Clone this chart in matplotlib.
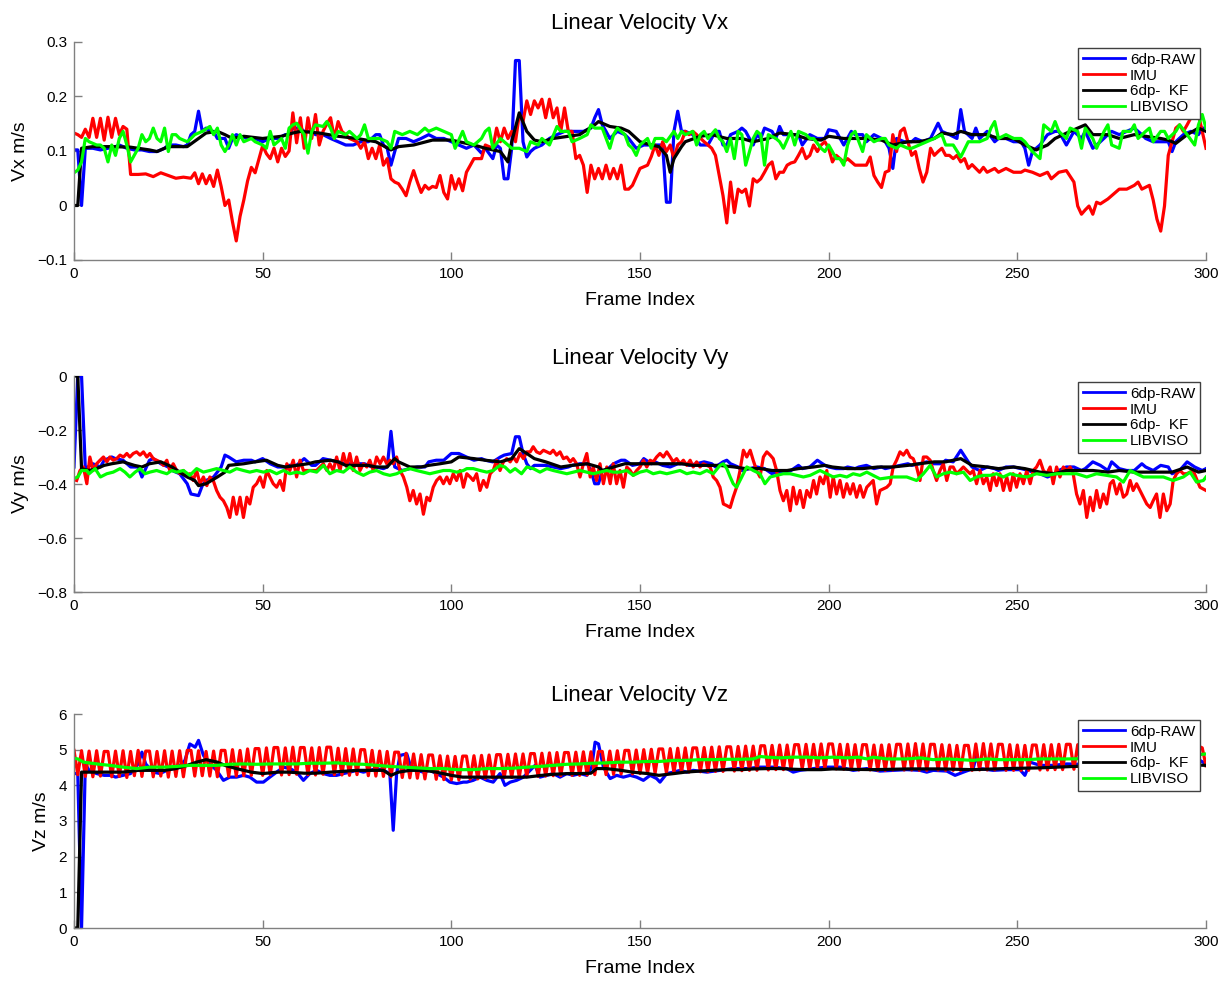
import matplotlib
matplotlib.use("Agg")
import matplotlib.pyplot as plt

plt.rcParams['font.family'] = ['Liberation Sans', 'DejaVu Sans']

# ---------------- labels / styling data ----------------
SERIES_NAMES = ["6dp-RAW", "IMU", "6dp-  KF", "LIBVISO"]
SERIES_COLORS = ["#0000ff", "#ff0000", "#000000", "#00ff00"]
TITLES = ["Linear Velocity Vx", "Linear Velocity Vy", "Linear Velocity Vz"]
YLABELS = ["Vx m/s", "Vy m/s", "Vz m/s"]
XLABEL = "Frame Index"
XTICKS = [0, 50, 100, 150, 200, 250, 300]
YTICKS_VX = [-0.1, 0, 0.1, 0.2, 0.3]
YTICKS_VY = [-0.8, -0.6, -0.4, -0.2, 0]
YTICKS_VZ = [0, 1, 2, 3, 4, 5, 6]

# ---------------- Vx data (frame, value) ----------------
VX_RAW = [(0,0.102),(1,0.102),(2,0.0),(3,0.105),(5,0.105),(7,0.102),(9,0.105),(11,0.108),(12,0.111),(14,0.105),
 (16,0.102),(18,0.102),(20,0.099),(22,0.099),(24,0.105),(25,0.111),(27,0.111),(29,0.108),(30,0.111),(31,0.130),
 (32,0.136),(33,0.173),(34,0.136),(35,0.142),(36,0.136),(37,0.136),(38,0.123),(40,0.123),(41,0.105),(42,0.123),
 (43,0.130),(44,0.127),(46,0.123),(48,0.123),(50,0.117),(52,0.123),(54,0.123),(56,0.130),(57,0.130),(58,0.142),
 (60,0.142),(61,0.136),(63,0.136),(64,0.130),(66,0.130),(68,0.123),(70,0.117),(72,0.111),(74,0.111),(76,0.117),
 (78,0.117),(80,0.130),(81,0.130),(82,0.111),(83,0.105),(84,0.074),(85,0.099),(86,0.123),(88,0.123),(90,0.117),
 (92,0.123),(94,0.130),(96,0.123),(98,0.123),(100,0.117),(102,0.111),(104,0.105),(106,0.111),(108,0.096),(109,0.105),
 (111,0.086),(112,0.111),(113,0.105),(114,0.049),(115,0.049),(116,0.105),(117,0.266),(118,0.266),(119,0.117),(120,0.089),
 (121,0.099),(122,0.105),(124,0.111),(126,0.123),(128,0.130),(130,0.136),(132,0.136),(134,0.136),(135,0.136),(137,0.142),
 (138,0.161),(139,0.176),(140,0.148),(141,0.136),(142,0.123),(144,0.136),(146,0.130),(147,0.123),(149,0.105),(151,0.111),
 (153,0.111),(155,0.111),(156,0.111),(157,0.006),(158,0.006),(159,0.136),(160,0.173),(161,0.136),(162,0.136),(164,0.130),
 (166,0.111),(168,0.111),(170,0.136),(171,0.136),(172,0.111),(173,0.111),(174,0.130),(176,0.136),(177,0.142),(178,0.136),
 (179,0.123),(180,0.111),(181,0.130),(182,0.123),(183,0.142),(185,0.136),(186,0.123),(187,0.145),(188,0.130),(190,0.130),
 (192,0.130),(193,0.111),(195,0.130),(197,0.123),(199,0.123),(200,0.139),(202,0.136),(204,0.111),(206,0.136),(207,0.130),
 (209,0.130),(210,0.117),(212,0.130),(214,0.123),(215,0.117),(216,0.105),(217,0.068),(218,0.123),(220,0.117),(222,0.117),
 (223,0.123),(225,0.117),(227,0.123),(229,0.151),(230,0.136),(232,0.130),(234,0.123),(235,0.176),(236,0.136),(238,0.123),
 (239,0.142),(240,0.123),(242,0.136),(244,0.117),(245,0.123),(247,0.123),(249,0.117),(251,0.117),(252,0.105),(253,0.074),
 (254,0.099),(256,0.111),(258,0.130),(260,0.136),(261,0.136),(263,0.111),(265,0.136),(267,0.123),(268,0.136),(270,0.105),
 (272,0.117),(274,0.130),(275,0.136),(277,0.130),(279,0.136),(281,0.142),(283,0.130),(284,0.123),(286,0.117),(288,0.117),
 (290,0.117),(291,0.099),(292,0.117),(294,0.130),(296,0.136),(298,0.130),(299,0.142),(300,0.142)]

VX_IMU = [(0,0.133),(1,0.130),(2,0.125),(3,0.140),(4,0.125),(5,0.160),(6,0.125),(7,0.160),(8,0.120),(9,0.162),
 (10,0.125),(11,0.160),(12,0.130),(13,0.145),(14,0.140),(15,0.057),(17,0.057),(19,0.058),(21,0.053),(23,0.060),
 (25,0.055),(27,0.050),(29,0.052),(31,0.050),(32,0.060),(33,0.040),(34,0.058),(35,0.040),(36,0.055),(37,0.035),
 (38,0.065),(39,0.035),(40,0.000),(41,0.010),(42,-0.030),(43,-0.065),(44,-0.020),(45,0.010),(46,0.045),(47,0.070),
 (48,0.060),(49,0.085),(50,0.110),(51,0.095),(52,0.086),(53,0.105),(54,0.080),(55,0.105),(56,0.090),(57,0.100),
 (58,0.170),(59,0.115),(60,0.161),(61,0.105),(62,0.161),(63,0.123),(64,0.167),(65,0.111),(66,0.136),(67,0.150),
 (68,0.161),(69,0.123),(70,0.154),(71,0.136),(72,0.130),(73,0.123),(74,0.120),(75,0.117),(76,0.105),(77,0.117),
 (78,0.086),(79,0.105),(80,0.086),(81,0.111),(82,0.074),(83,0.086),(84,0.049),(85,0.043),(86,0.040),(87,0.030),
 (88,0.018),(89,0.043),(90,0.064),(91,0.043),(92,0.024),(93,0.037),(94,0.030),(95,0.035),(96,0.033),(97,0.055),
 (98,0.024),(99,0.012),(100,0.055),(101,0.030),(102,0.049),(103,0.027),(104,0.061),(106,0.086),(108,0.086),(109,0.111),
 (111,0.105),(112,0.142),(113,0.117),(114,0.142),(115,0.123),(116,0.136),(117,0.117),(118,0.167),(119,0.154),(120,0.192),
 (121,0.167),(122,0.192),(123,0.179),(124,0.195),(125,0.161),(126,0.195),(127,0.161),(128,0.179),(129,0.136),(130,0.179),
 (131,0.136),(132,0.136),(133,0.086),(134,0.092),(135,0.074),(136,0.024),(137,0.074),(138,0.049),(139,0.068),(140,0.049),
 (141,0.074),(142,0.049),(143,0.068),(144,0.049),(145,0.074),(146,0.030),(147,0.030),(148,0.037),(150,0.068),(152,0.074),
 (153,0.090),(154,0.111),(155,0.092),(156,0.117),(157,0.099),(158,0.111),(159,0.086),(160,0.111),(161,0.117),(162,0.136),
 (163,0.130),(164,0.136),(165,0.130),(167,0.117),(168,0.111),(169,0.105),(170,0.092),(171,0.055),(172,0.018),(173,-0.032),
 (174,0.043),(175,-0.013),(176,0.030),(177,0.024),(178,0.030),(179,-0.001),(180,0.049),(181,0.043),(182,0.049),(183,0.061),
 (184,0.074),(185,0.080),(186,0.049),(187,0.061),(188,0.061),(189,0.074),(190,0.078),(191,0.080),(192,0.092),(193,0.105),
 (194,0.086),(195,0.092),(196,0.111),(197,0.099),(198,0.111),(199,0.117),(200,0.105),(201,0.080),(202,0.092),(203,0.086),
 (204,0.080),(205,0.086),(207,0.074),(209,0.074),(210,0.074),(211,0.089),(212,0.055),(213,0.043),(214,0.033),(215,0.061),
 (216,0.064),(217,0.130),(218,0.099),(219,0.136),(220,0.142),(221,0.117),(222,0.092),(223,0.099),(224,0.068),(225,0.043),
 (226,0.061),(227,0.105),(228,0.092),(229,0.099),(230,0.105),(231,0.092),(232,0.092),(233,0.086),(234,0.092),(235,0.080),
 (236,0.086),(237,0.068),(238,0.075),(239,0.068),(240,0.061),(241,0.070),(242,0.061),(244,0.068),(245,0.061),(247,0.068),
 (249,0.061),(251,0.061),(252,0.065),(254,0.061),(256,0.055),(258,0.061),(259,0.049),(261,0.061),(263,0.064),(265,0.043),
 (266,-0.001),(267,-0.016),(268,-0.008),(269,-0.001),(270,-0.016),(271,0.006),(272,0.003),(274,0.012),(275,0.018),(277,0.030),
 (279,0.030),(281,0.037),(282,0.043),(283,0.030),(285,0.037),(286,0.010),(287,-0.025),(288,-0.047),(289,-0.001),(290,0.092),
 (291,0.117),(292,0.142),(293,0.148),(294,0.136),(295,0.148),(296,0.161),(297,0.167),(298,0.167),(299,0.136),(300,0.105)]

VX_KF = [(0,0.0),(1,0.0),(2,0.105),(5,0.108),(10,0.108),(15,0.107),(20,0.102),(22,0.099),(25,0.108),(30,0.108),
 (33,0.123),(35,0.133),(38,0.136),(40,0.130),(42,0.123),(45,0.127),(50,0.123),(55,0.127),(58,0.133),(60,0.136),
 (65,0.133),(70,0.127),(75,0.123),(80,0.117),(84,0.102),(86,0.108),(90,0.111),(95,0.120),(100,0.120),(102,0.117),
 (106,0.111),(109,0.105),(113,0.099),(115,0.080),(116,0.117),(118,0.170),(120,0.136),(122,0.120),(124,0.117),(127,0.123),
 (131,0.127),(134,0.130),(138,0.148),(139,0.154),(142,0.145),(145,0.142),(147,0.136),(150,0.117),(153,0.111),(155,0.108),
 (157,0.092),(158,0.061),(159,0.086),(161,0.108),(162,0.117),(166,0.127),(169,0.130),(173,0.123),(177,0.123),(180,0.117),
 (184,0.123),(187,0.133),(191,0.130),(194,0.123),(198,0.120),(200,0.127),(204,0.123),(207,0.123),(210,0.123),(214,0.120),
 (217,0.111),(221,0.117),(224,0.117),(228,0.123),(230,0.133),(233,0.130),(235,0.136),(238,0.130),(242,0.130),(245,0.123),
 (249,0.123),(252,0.111),(255,0.102),(258,0.111),(260,0.123),(264,0.136),(266,0.142),(268,0.148),(270,0.130),(274,0.130),
 (277,0.123),(281,0.130),(284,0.127),(288,0.123),(290,0.120),(292,0.114),(295,0.130),(298,0.142),(300,0.136)]

VX_LIB = [(0,0.060),(1,0.065),(2,0.080),(3,0.123),(4,0.117),(6,0.111),(7,0.111),(8,0.105),(9,0.080),(10,0.111),
 (11,0.092),(12,0.123),(13,0.136),(14,0.111),(15,0.080),(17,0.105),(18,0.130),(19,0.117),(20,0.123),(21,0.142),
 (22,0.123),(23,0.117),(24,0.142),(25,0.099),(26,0.130),(27,0.130),(28,0.123),(30,0.117),(31,0.123),(32,0.130),
 (34,0.136),(36,0.145),(37,0.130),(38,0.142),(39,0.111),(40,0.099),(41,0.111),(42,0.130),(43,0.111),(44,0.130),
 (45,0.117),(47,0.123),(48,0.117),(50,0.111),(51,0.105),(52,0.136),(53,0.111),(55,0.123),(56,0.105),(57,0.142),
 (58,0.148),(59,0.151),(61,0.130),(62,0.096),(63,0.136),(64,0.148),(66,0.145),(67,0.154),(68,0.142),(69,0.123),
 (70,0.136),(72,0.130),(73,0.136),(75,0.123),(76,0.130),(77,0.148),(78,0.123),(80,0.123),(81,0.123),(83,0.117),
 (84,0.105),(85,0.136),(87,0.130),(89,0.136),(91,0.130),(93,0.142),(94,0.136),(96,0.142),(98,0.136),(100,0.130),
 (101,0.105),(103,0.136),(104,0.117),(106,0.111),(108,0.123),(109,0.136),(110,0.142),(111,0.105),(113,0.123),(115,0.111),
 (116,0.105),(118,0.105),(120,0.099),(121,0.117),(123,0.111),(124,0.123),(126,0.111),(128,0.145),(129,0.136),(131,0.136),
 (132,0.117),(134,0.123),(136,0.130),(137,0.148),(138,0.142),(140,0.142),(142,0.105),(143,0.130),(144,0.142),(146,0.130),
 (147,0.111),(148,0.105),(149,0.092),(150,0.111),(152,0.123),(153,0.105),(154,0.123),(156,0.123),(157,0.117),(159,0.136),
 (160,0.123),(161,0.136),(162,0.130),(164,0.136),(165,0.111),(166,0.130),(167,0.136),(168,0.123),(170,0.139),(171,0.123),
 (172,0.117),(173,0.099),(174,0.123),(175,0.086),(176,0.136),(177,0.130),(178,0.074),(180,0.123),(181,0.136),(182,0.130),
 (183,0.074),(184,0.130),(186,0.123),(187,0.117),(188,0.105),(190,0.136),(191,0.111),(192,0.136),(194,0.130),(195,0.123),
 (196,0.123),(198,0.105),(199,0.099),(200,0.111),(202,0.086),(203,0.086),(204,0.074),(205,0.111),(206,0.130),(207,0.136),
 (208,0.117),(209,0.099),(210,0.130),(212,0.117),(214,0.123),(215,0.123),(216,0.111),(218,0.105),(219,0.111),(221,0.105),
 (222,0.105),(224,0.111),(226,0.117),(228,0.123),(230,0.130),(231,0.111),(233,0.111),(235,0.089),(237,0.117),(238,0.117),
 (240,0.117),(242,0.123),(243,0.142),(244,0.154),(245,0.123),(247,0.130),(249,0.123),(251,0.123),(252,0.117),(254,0.099),
 (256,0.086),(257,0.148),(259,0.136),(260,0.154),(261,0.136),(263,0.123),(264,0.142),(266,0.136),(267,0.105),(268,0.142),
 (270,0.123),(271,0.105),(273,0.136),(274,0.148),(275,0.111),(277,0.105),(278,0.136),(280,0.136),(281,0.148),(282,0.123),
 (284,0.136),(285,0.142),(286,0.117),(288,0.136),(289,0.136),(290,0.123),(292,0.136),(293,0.148),(295,0.130),(297,0.111),
 (298,0.148),(299,0.167),(300,0.142)]

# ---------------- Vy data (frame, value) ----------------
VY_RAW = [(0,-0.337),(1,0.0),(2,0.0),(3,-0.343),(5,-0.325),(7,-0.337),(8,-0.312),(10,-0.300),(11,-0.306),(13,-0.312),
 (15,-0.337),(17,-0.337),(18,-0.374),(20,-0.312),(21,-0.306),(23,-0.325),(25,-0.337),(26,-0.350),(28,-0.362),(30,-0.399),
 (31,-0.437),(33,-0.443),(34,-0.406),(35,-0.387),(37,-0.374),(39,-0.337),(40,-0.293),(41,-0.300),(43,-0.318),(45,-0.312),
 (47,-0.312),(48,-0.318),(50,-0.306),(52,-0.325),(54,-0.337),(56,-0.337),(57,-0.331),(59,-0.331),(61,-0.306),(63,-0.331),
 (64,-0.331),(66,-0.306),(68,-0.312),(70,-0.318),(72,-0.325),(73,-0.325),(75,-0.325),(77,-0.325),(79,-0.337),(80,-0.337),
 (82,-0.343),(83,-0.337),(84,-0.205),(85,-0.337),(87,-0.350),(89,-0.343),(91,-0.337),(93,-0.337),(94,-0.318),(96,-0.312),
 (98,-0.312),(100,-0.287),(101,-0.287),(102,-0.287),(104,-0.300),(106,-0.312),(108,-0.306),(109,-0.312),(111,-0.318),(113,-0.300),
 (114,-0.293),(116,-0.287),(117,-0.225),(118,-0.225),(119,-0.287),(120,-0.325),(121,-0.343),(122,-0.331),(124,-0.331),(125,-0.331),
 (127,-0.337),(129,-0.343),(131,-0.337),(132,-0.331),(134,-0.325),(136,-0.325),(137,-0.350),(138,-0.399),(139,-0.399),(140,-0.350),
 (141,-0.350),(143,-0.325),(145,-0.312),(146,-0.312),(148,-0.331),(150,-0.325),(151,-0.306),(153,-0.325),(154,-0.318),(156,-0.331),
 (158,-0.337),(160,-0.325),(162,-0.325),(163,-0.331),(165,-0.325),(167,-0.318),(169,-0.325),(170,-0.337),(172,-0.318),(173,-0.312),
 (174,-0.325),(176,-0.337),(177,-0.350),(179,-0.343),(181,-0.337),(183,-0.343),(185,-0.362),(186,-0.356),(188,-0.356),(190,-0.350),
 (192,-0.331),(193,-0.343),(195,-0.337),(197,-0.312),(199,-0.331),(200,-0.337),(202,-0.343),(204,-0.343),(205,-0.337),(207,-0.343),
 (208,-0.337),(210,-0.331),(212,-0.343),(214,-0.337),(215,-0.343),(217,-0.337),(219,-0.331),(221,-0.325),(222,-0.331),(224,-0.325),
 (226,-0.318),(228,-0.325),(230,-0.325),(231,-0.312),(233,-0.318),(235,-0.275),(237,-0.318),(238,-0.337),(240,-0.350),(242,-0.337),
 (244,-0.343),(245,-0.350),(247,-0.337),(249,-0.337),(251,-0.343),(253,-0.350),(254,-0.356),(256,-0.362),(258,-0.374),(260,-0.362),
 (261,-0.350),(263,-0.337),(265,-0.337),(267,-0.350),(268,-0.343),(270,-0.318),(272,-0.331),(274,-0.350),(275,-0.318),(277,-0.343),
 (279,-0.350),(281,-0.350),(283,-0.325),(284,-0.337),(286,-0.350),(288,-0.331),(290,-0.337),(291,-0.362),(293,-0.350),(295,-0.318),
 (297,-0.337),(299,-0.350),(300,-0.343)]

VY_IMU = [(0.7,-0.387),(1.6,-0.350),(2.5,-0.337),(3.4,-0.399),(4.2,-0.300),(5.1,-0.350),(6.0,-0.325),(6.9,-0.312),(7.8,-0.300),(8.7,-0.318),
 (9.5,-0.300),(10.4,-0.312),(11.3,-0.306),(12.2,-0.293),(13.1,-0.300),(14.0,-0.287),(14.8,-0.300),(15.7,-0.287),(16.6,-0.281),(17.5,-0.293),
 (18.4,-0.281),(19.3,-0.300),(20.1,-0.287),(21.0,-0.306),(21.9,-0.312),(22.8,-0.318),(23.7,-0.331),(24.6,-0.312),(25.4,-0.350),(26.3,-0.325),
 (27.2,-0.350),(28.1,-0.362),(29.0,-0.350),(29.9,-0.368),(30.7,-0.362),(31.6,-0.387),(32.5,-0.350),(33.4,-0.399),(34.3,-0.374),(35.2,-0.406),
 (36.0,-0.374),(36.9,-0.387),(37.8,-0.424),(38.7,-0.449),(39.6,-0.462),(40.5,-0.487),(41.3,-0.524),(42.2,-0.449),(43.1,-0.512),(44.0,-0.449),
 (44.9,-0.524),(45.8,-0.449),(46.6,-0.474),(47.5,-0.412),(48.4,-0.399),(49.3,-0.374),(50.2,-0.412),(51.1,-0.350),(51.9,-0.374),(52.8,-0.399),
 (53.7,-0.412),(54.6,-0.387),(55.5,-0.424),(56.4,-0.325),(57.2,-0.350),(58.1,-0.312),(59.0,-0.374),(59.9,-0.312),(60.8,-0.350),(61.7,-0.350),
 (62.5,-0.350),(63.4,-0.350),(64.3,-0.350),(65.2,-0.337),(66.1,-0.325),(67.0,-0.350),(67.8,-0.325),(68.7,-0.350),(69.6,-0.300),(70.5,-0.350),
 (71.4,-0.287),(72.3,-0.337),(73.1,-0.287),(74.0,-0.350),(74.9,-0.300),(75.8,-0.350),(76.7,-0.325),(77.6,-0.337),(78.4,-0.312),(79.3,-0.350),
 (80.2,-0.300),(81.1,-0.325),(82.0,-0.300),(82.9,-0.325),(83.7,-0.312),(84.6,-0.325),(85.5,-0.300),(86.4,-0.350),(87.3,-0.374),(88.2,-0.412),
 (89.0,-0.462),(89.9,-0.424),(90.8,-0.474),(91.7,-0.437),(92.6,-0.512),(93.5,-0.449),(94.3,-0.462),(95.2,-0.412),(96.1,-0.387),(97.0,-0.374),
 (97.9,-0.399),(98.8,-0.374),(99.6,-0.399),(100.5,-0.362),(101.4,-0.387),(102.3,-0.350),(103.2,-0.412),(104.1,-0.362),(105.0,-0.374),(105.8,-0.387),
 (106.7,-0.362),(107.6,-0.424),(108.5,-0.387),(109.4,-0.412),(110.3,-0.362),(111.1,-0.350),(112.0,-0.312),(112.9,-0.350),(113.8,-0.318),(114.7,-0.306),
 (115.6,-0.318),(116.4,-0.300),(117.3,-0.318),(118.2,-0.287),(119.1,-0.306),(120.0,-0.281),(120.9,-0.281),(121.7,-0.262),(122.6,-0.281),(123.5,-0.287),
 (124.4,-0.275),(125.3,-0.281),(126.2,-0.287),(127.0,-0.275),(127.9,-0.293),(128.8,-0.281),(129.7,-0.306),(130.6,-0.300),(131.5,-0.318),(132.3,-0.306),
 (133.2,-0.325),(134.1,-0.374),(135.0,-0.325),(135.9,-0.287),(136.8,-0.374),(137.6,-0.337),(138.5,-0.387),(139.4,-0.325),(140.3,-0.399),(141.2,-0.337),
 (142.1,-0.399),(142.9,-0.325),(143.8,-0.399),(144.7,-0.350),(145.6,-0.412),(146.5,-0.337),(147.4,-0.350),(148.2,-0.368),(149.1,-0.350),(150.0,-0.337),
 (150.9,-0.312),(151.8,-0.337),(152.7,-0.312),(153.5,-0.318),(154.4,-0.300),(155.3,-0.287),(156.2,-0.300),(157.1,-0.281),(158.0,-0.300),(158.8,-0.318),
 (159.7,-0.306),(160.6,-0.325),(161.5,-0.312),(162.4,-0.331),(163.3,-0.312),(164.1,-0.337),(165.0,-0.318),(165.9,-0.337),(166.8,-0.325),(167.7,-0.331),
 (168.6,-0.337),(169.4,-0.374),(170.3,-0.387),(171.2,-0.412),(172.1,-0.474),(173.0,-0.480),(173.9,-0.487),(174.7,-0.449),(175.6,-0.412),(176.5,-0.350),
 (177.4,-0.275),(178.3,-0.300),(179.2,-0.275),(180.0,-0.312),(180.9,-0.350),(181.8,-0.374),(182.7,-0.300),(183.6,-0.281),(184.5,-0.293),(185.3,-0.306),
 (186.2,-0.350),(187.1,-0.424),(188.0,-0.462),(188.9,-0.424),(189.8,-0.499),(190.6,-0.412),(191.5,-0.474),(192.4,-0.424),(193.3,-0.487),(194.2,-0.424),
 (195.1,-0.449),(196.0,-0.387),(196.8,-0.437),(197.7,-0.374),(198.6,-0.399),(199.5,-0.350),(200.4,-0.449),(201.2,-0.374),(202.1,-0.437),(203.0,-0.387),
 (203.9,-0.449),(204.8,-0.399),(205.7,-0.437),(206.5,-0.399),(207.4,-0.449),(208.3,-0.406),(209.2,-0.449),(210.1,-0.412),(211.0,-0.399),(211.8,-0.387),
 (212.7,-0.474),(213.6,-0.424),(214.5,-0.418),(215.4,-0.412),(216.3,-0.399),(217.1,-0.337),(218.0,-0.312),(218.9,-0.281),(219.8,-0.293),(220.7,-0.275),
 (221.6,-0.300),(222.4,-0.306),(223.3,-0.337),(224.2,-0.387),(225.1,-0.300),(226.0,-0.300),(226.9,-0.312),(227.7,-0.350),(228.6,-0.387),(229.5,-0.350),
 (230.4,-0.325),(231.3,-0.387),(232.2,-0.337),(233.0,-0.337),(233.9,-0.362),(234.8,-0.350),(235.7,-0.337),(236.6,-0.350),(237.5,-0.362),(238.3,-0.350),
 (239.2,-0.399),(240.1,-0.350),(241.0,-0.399),(241.9,-0.374),(242.8,-0.424),(243.6,-0.362),(244.5,-0.406),(245.4,-0.362),(246.3,-0.424),(247.2,-0.374),
 (248.1,-0.424),(248.9,-0.362),(249.8,-0.412),(250.7,-0.362),(251.6,-0.399),(252.5,-0.350),(253.4,-0.399),(254.2,-0.350),(255.1,-0.337),(256.0,-0.312),
 (256.9,-0.350),(257.8,-0.362),(258.7,-0.337),(259.5,-0.399),(260.4,-0.337),(261.3,-0.374),(262.2,-0.337),(263.1,-0.350),(264.0,-0.337),(264.8,-0.362),
 (265.7,-0.437),(266.6,-0.474),(267.5,-0.424),(268.4,-0.524),(269.3,-0.449),(270.1,-0.499),(271.0,-0.424),(271.9,-0.487),(272.8,-0.437),(273.7,-0.474),
 (274.6,-0.399),(275.4,-0.387),(276.3,-0.437),(277.2,-0.399),(278.1,-0.449),(279.0,-0.437),(279.9,-0.387),(280.7,-0.424),(281.6,-0.399),(282.5,-0.424),
 (283.4,-0.449),(284.3,-0.474),(285.2,-0.487),(286.0,-0.462),(286.9,-0.437),(287.8,-0.524),(288.7,-0.437),(289.6,-0.499),(290.5,-0.474),(291.3,-0.387),
 (292.2,-0.362),(293.1,-0.350),(294.0,-0.362),(294.9,-0.362),(296.6,-0.350),(298.4,-0.412),(300.0,-0.424)]

VY_KF = [(0,0.0),(1,0.0),(2,-0.343),(4,-0.350),(6,-0.343),(8,-0.331),(10,-0.325),(13,-0.318),(16,-0.331),(18,-0.337),
 (20,-0.325),(23,-0.318),(26,-0.337),(28,-0.356),(30,-0.374),(32,-0.387),(33,-0.406),(35,-0.399),(38,-0.374),(40,-0.356),
 (41,-0.331),(45,-0.325),(48,-0.318),(51,-0.312),(54,-0.331),(56,-0.337),(59,-0.331),(62,-0.325),(64,-0.318),(68,-0.312),
 (70,-0.318),(72,-0.331),(75,-0.331),(78,-0.331),(80,-0.337),(83,-0.337),(85,-0.306),(86,-0.318),(89,-0.337),(92,-0.337),
 (94,-0.331),(97,-0.325),(100,-0.318),(102,-0.300),(106,-0.306),(109,-0.312),(113,-0.318),(116,-0.306),(117,-0.287),(118,-0.269),
 (120,-0.287),(122,-0.306),(125,-0.318),(129,-0.337),(132,-0.331),(136,-0.325),(139,-0.337),(140,-0.350),(143,-0.337),(146,-0.325),
 (150,-0.325),(154,-0.325),(157,-0.325),(161,-0.325),(164,-0.331),(168,-0.331),(171,-0.331),(175,-0.337),(178,-0.343),(182,-0.343),
 (185,-0.350),(189,-0.350),(192,-0.343),(196,-0.337),(199,-0.331),(201,-0.337),(205,-0.343),(209,-0.343),(213,-0.337),(217,-0.337),
 (221,-0.331),(224,-0.325),(228,-0.318),(231,-0.318),(235,-0.306),(238,-0.331),(242,-0.337),(245,-0.343),(249,-0.337),(252,-0.343),
 (256,-0.356),(260,-0.362),(263,-0.350),(267,-0.350),(270,-0.350),(274,-0.356),(277,-0.350),(281,-0.356),(284,-0.356),(288,-0.356),
 (291,-0.356),(295,-0.337),(298,-0.356),(300,-0.350)]

VY_LIB = [(0,-0.380),(1,-0.374),(2,-0.350),(3.4,-0.350),(4,-0.362),(5.6,-0.343),(7,-0.374),(8.7,-0.362),(10.4,-0.356),(12.2,-0.343),
 (13.5,-0.356),(14.8,-0.374),(16.2,-0.356),(17.5,-0.343),(18.8,-0.362),(20.1,-0.356),(21.9,-0.350),(23.2,-0.356),(24.6,-0.362),(25.9,-0.350),
 (27.2,-0.356),(29,-0.350),(30.7,-0.368),(32.5,-0.343),(34.3,-0.356),(36,-0.350),(37.8,-0.343),(39.6,-0.350),(41.3,-0.356),(43.1,-0.343),
 (44.9,-0.350),(46.6,-0.356),(48.4,-0.350),(50.2,-0.356),(51.9,-0.350),(53.7,-0.362),(55.5,-0.350),(57.2,-0.362),(59,-0.356),(60.8,-0.362),
 (62.5,-0.350),(64.3,-0.356),(66.1,-0.331),(67.8,-0.362),(69.6,-0.350),(71.4,-0.356),(73.1,-0.337),(74.9,-0.356),(76.7,-0.368),(78.4,-0.356),
 (80.2,-0.350),(82,-0.362),(83.7,-0.368),(85.5,-0.362),(87.3,-0.350),(89,-0.343),(90.8,-0.350),(92.6,-0.356),(94.3,-0.362),(96.1,-0.356),
 (97.9,-0.350),(99.6,-0.350),(101.4,-0.356),(103.2,-0.350),(104.1,-0.343),(105.8,-0.343),(107.6,-0.350),(109.4,-0.356),(111.1,-0.350),(112.9,-0.331),
 (114.2,-0.337),(115.6,-0.356),(116.9,-0.343),(118.6,-0.362),(120,-0.337),(121.7,-0.343),(123.5,-0.356),(125.3,-0.343),(127,-0.350),(128.8,-0.356),
 (130.6,-0.362),(132.3,-0.356),(134.1,-0.350),(135.9,-0.356),(137.6,-0.362),(139.4,-0.356),(141.2,-0.350),(142.9,-0.356),(144.7,-0.356),(146.5,-0.350),
 (148.2,-0.368),(150,-0.356),(151.8,-0.350),(153.5,-0.362),(155.3,-0.356),(157.1,-0.362),(158.8,-0.356),(160.6,-0.350),(162.4,-0.362),(164.1,-0.356),
 (165.9,-0.362),(167.7,-0.350),(169.4,-0.362),(171.2,-0.331),(172.1,-0.325),(173,-0.343),(173.9,-0.374),(174.7,-0.399),(175.6,-0.412),(176.5,-0.387),
 (177.4,-0.362),(178.3,-0.337),(179.2,-0.343),(180,-0.350),(181.8,-0.362),(183.1,-0.399),(184.5,-0.374),(186.2,-0.368),(188,-0.362),(189.8,-0.362),
 (191.5,-0.368),(193.3,-0.374),(195.1,-0.368),(196.8,-0.356),(197.7,-0.350),(199.5,-0.362),(201.2,-0.374),(203,-0.368),(204.8,-0.374),(206.5,-0.362),
 (208.3,-0.368),(210.1,-0.356),(211.8,-0.368),(213.6,-0.381),(217.1,-0.374),(220.7,-0.374),(223.3,-0.387),(225.1,-0.362),(226.9,-0.331),(228.6,-0.374),
 (230.4,-0.362),(232.2,-0.356),(233.9,-0.362),(235.7,-0.356),(237.5,-0.387),(239.2,-0.374),(241,-0.368),(242.8,-0.368),(244.5,-0.362),(246.3,-0.374),
 (248.1,-0.362),(249.8,-0.368),(252.5,-0.374),(255.1,-0.362),(257.8,-0.368),(260.4,-0.362),(263.1,-0.362),(265.7,-0.362),(268.4,-0.374),(271,-0.362),
 (273.7,-0.368),(276.3,-0.374),(278.1,-0.393),(279.9,-0.350),(281.6,-0.362),(283.4,-0.374),(286,-0.374),(288.7,-0.374),(291.3,-0.387),(294,-0.374),
 (295.8,-0.356),(297.5,-0.393),(299.3,-0.387),(300,-0.374)]

# ---------------- Vz data ----------------
VZ_RAW = [(0,4.33),(1,4.33),(2,0.0),(3,4.60),(4,4.42),(6,4.33),(8,4.28),(10,4.28),(11,4.23),(13,4.28),
 (15,4.33),(17,4.60),(18,4.93),(19,4.60),(21,4.37),(22.8,4.33),(24.6,4.42),(26.3,4.47),(28.1,4.56),(29.4,4.70),
 (30.7,5.16),(32.1,5.07),(33,5.26),(34.3,4.84),(36,4.60),(37.8,4.42),(39.6,4.14),(41.3,4.23),(43.1,4.23),(44.9,4.28),
 (46.6,4.23),(48.4,4.09),(50.2,4.09),(51.9,4.23),(53.7,4.37),(55.5,4.51),(57.2,4.47),(59,4.37),(60.8,4.14),(62.5,4.33),
 (64.3,4.42),(66.1,4.33),(67.8,4.28),(69.6,4.28),(71.4,4.33),(73.1,4.37),(74.9,4.42),(76.7,4.37),(78.4,4.42),(80.2,4.47),
 (82,4.42),(83.7,4.33),(84.6,2.74),(85.5,4.33),(86.4,4.84),(88.2,4.88),(89,4.60),(90.8,4.42),(92.6,4.37),(94.3,4.42),
 (96.1,4.33),(97.9,4.23),(99.6,4.09),(101.4,4.05),(103.2,4.09),(104.1,4.09),(105.8,4.14),(107.6,4.23),(109.4,4.14),(111.1,4.09),
 (112.9,4.33),(114.2,4.00),(115.6,4.09),(117.3,4.14),(119.1,4.23),(120.9,4.42),(122.2,4.56),(123.5,4.23),(125.3,4.28),(127,4.33),
 (128.8,4.23),(130.6,4.33),(132.3,4.28),(134.1,4.33),(135.9,4.28),(137.2,4.51),(138.1,5.21),(139,5.16),(140.3,4.51),(142.1,4.19),
 (143.8,4.28),(145.6,4.23),(147.4,4.28),(149.1,4.23),(150.9,4.14),(152.7,4.28),(154.4,4.19),(155.3,4.09),(157.1,4.33),(158.8,4.37),
 (160.6,4.42),(162.4,4.37),(164.1,4.42),(167.7,4.37),(171.2,4.42),(174.7,4.47),(178.3,4.47),(181.8,4.51),(185.3,4.51),(188.9,4.47),
 (190.6,4.37),(192.4,4.42),(196,4.47),(199.5,4.51),(203,4.51),(206.5,4.42),(210.1,4.47),(213.6,4.40),(217.1,4.42),(220.7,4.44),
 (224.2,4.42),(226,4.37),(227.7,4.42),(231.3,4.40),(233.5,4.28),(235.7,4.37),(238.3,4.47),(239.2,4.84),(240.1,4.47),(243.6,4.42),
 (247.2,4.44),(250.7,4.44),(252,4.28),(253.4,4.65),(256,4.56),(259.5,4.56),(263.1,4.60),(270,4.58),(280,4.60),(290,4.62),
 (298.4,4.70),(300,4.60)]

VZ_IMU = [4.98, 4.30, 4.97, 4.25, 4.96, 4.24, 4.97, 4.26, 4.95, 4.95,
 4.24, 4.96, 4.25, 4.97, 4.22, 4.95, 4.27, 4.98, 4.25, 4.96,
 4.96, 4.24, 4.95, 4.26, 4.97, 4.23, 4.96, 4.25, 4.97, 4.24,
 4.98, 4.98, 4.26, 4.97, 4.27, 4.95, 4.26, 4.96, 4.24, 4.98,
 4.98, 4.25, 5.00, 4.26, 4.98, 4.27, 5.02, 4.28, 5.03, 5.03,
 4.28, 5.05, 4.30, 5.06, 5.06, 4.29, 5.05, 4.30, 5.07, 4.31,
 5.06, 5.06, 4.30, 5.05, 4.29, 5.06, 4.31, 5.07, 5.07, 4.30,
 5.04, 4.29, 5.03, 4.28, 5.02, 4.30, 5.00, 5.00, 4.27, 4.98,
 4.26, 4.96, 4.25, 4.95, 4.24, 4.93, 4.93, 4.22, 4.90, 4.21,
 4.88, 4.20, 4.86, 4.18, 4.85, 4.85, 4.17, 4.83, 4.16, 4.82,
 4.15, 4.81, 4.15, 4.82, 4.82, 4.17, 4.83, 4.18, 4.84, 4.19,
 4.85, 4.20, 4.86, 4.86, 4.21, 4.87, 4.22, 4.88, 4.23, 4.88,
 4.24, 4.89, 4.89, 4.25, 4.90, 4.26, 4.91, 4.27, 4.92, 4.27,
 4.92, 4.92, 4.28, 4.93, 4.28, 4.94, 4.29, 4.94, 4.30, 4.95,
 4.95, 4.30, 4.96, 4.31, 4.97, 4.32, 4.98, 4.98, 4.32, 4.99,
 4.33, 5.00, 4.34, 5.01, 4.34, 5.02, 5.02, 4.35, 5.03, 4.36,
 5.04, 4.36, 5.05, 4.37, 5.05, 5.05, 4.38, 5.06, 4.38, 5.07,
 4.39, 5.08, 4.39, 5.08, 5.08, 4.40, 5.09, 4.41, 5.10, 4.42,
 5.10, 4.42, 5.11, 5.11, 4.43, 5.12, 4.44, 5.13, 4.44, 5.13,
 4.45, 5.14, 5.14, 4.46, 5.15, 4.46, 5.15, 4.47, 5.16, 4.47,
 5.16, 5.16, 4.46, 5.15, 4.45, 5.15, 4.44, 5.14, 4.43, 5.14,
 5.14, 4.43, 5.13, 4.42, 5.13, 4.42, 5.14, 4.43, 5.15, 5.15,
 4.43, 5.16, 4.43, 5.17, 4.42, 5.16, 4.42, 5.15, 5.15, 4.43,
 5.14, 4.42, 5.13, 4.42, 5.12, 4.41, 5.12, 5.12, 4.42, 5.16,
 4.43, 5.17, 4.43, 5.16, 4.43, 5.15, 5.15, 4.42, 5.14, 4.42,
 5.13, 4.42, 5.12, 4.42, 5.13, 5.13, 4.43, 5.14, 4.43, 5.14,
 4.44, 5.15, 4.44, 5.15, 5.15, 4.45, 5.14, 4.45, 5.13, 4.46,
 5.13, 5.13, 4.47, 5.12, 4.47, 5.12, 4.48, 5.11, 5.11, 4.48,
 5.12, 4.48, 5.12, 4.49, 5.13, 4.49, 5.13, 5.13, 4.50, 5.12,
 4.50, 5.12, 4.50, 5.11, 4.51, 5.11, 5.11, 4.52, 5.10, 5.05,
 4.55]
VZ_IMU_FRAMES = list(range(len(VZ_IMU)))

VZ_KF = [(0,0.0),(1,0.0),(2,4.37),(8,4.37),(13,4.37),(17,4.42),(20,4.42),(24,4.42),(27,4.47),(30,4.56),
 (32.5,4.65),(35,4.72),(38,4.65),(40,4.56),(43,4.47),(47,4.37),(50,4.33),(54,4.37),(57,4.37),(61,4.34),
 (64,4.34),(68,4.37),(71,4.39),(75,4.42),(78,4.42),(82,4.42),(84,4.28),(86,4.37),(89,4.42),(93,4.42),
 (96,4.37),(100,4.28),(103,4.23),(106,4.23),(109,4.23),(113,4.23),(116,4.23),(120,4.23),(124,4.28),(127,4.31),
 (131,4.33),(134,4.33),(137,4.34),(138.5,4.47),(141,4.47),(145,4.42),(148,4.37),(152,4.33),(155,4.28),(159,4.33),
 (162,4.37),(166,4.40),(169,4.42),(173,4.44),(177,4.44),(180,4.46),(184,4.47),(187,4.47),(191,4.45),(194,4.44),
 (198,4.44),(201,4.46),(205,4.45),(212,4.44),(221,4.46),(230,4.46),(238,4.44),(247,4.47),(256,4.49),(265,4.53),
 (275,4.55),(285,4.57),(295,4.58),(300,4.56)]

VZ_LIB = [(0,4.76),(1,4.74),(2.5,4.65),(6,4.60),(9.5,4.56),(13,4.51),(16.6,4.47),(20,4.51),(23.7,4.51),(27.2,4.53),
 (30.7,4.56),(34.3,4.56),(37.8,4.56),(41.3,4.59),(44.9,4.60),(48.4,4.59),(52,4.60),(55.5,4.60),(59,4.60),(62.5,4.62),
 (66,4.62),(69.6,4.63),(73,4.60),(76.7,4.59),(80.2,4.56),(83.7,4.53),(87.3,4.51),(90.8,4.49),(94.3,4.47),(97.9,4.47),
 (101.4,4.44),(105.8,4.44),(109.4,4.47),(112.9,4.47),(116.4,4.48),(120,4.51),(123.5,4.53),(127,4.56),(130.6,4.59),(134.1,4.60),
 (137.6,4.62),(141.2,4.63),(144.7,4.65),(148.2,4.65),(151.8,4.67),(155.3,4.67),(158.8,4.70),(162.4,4.70),(165.9,4.72),(169.4,4.72),
 (173,4.73),(176.5,4.73),(180,4.74),(181.8,4.81),(183.6,4.79),(187.1,4.77),(190.6,4.79),(194.2,4.79),(197.7,4.77),(201.2,4.79),
 (204.8,4.77),(207.9,4.79),(210.1,4.74),(211.8,4.79),(215.4,4.74),(220.7,4.74),(224.2,4.77),(227.7,4.72),(231.3,4.74),(234.8,4.72),
 (238.3,4.70),(241.9,4.74),(245.4,4.72),(249,4.72),(252.5,4.72),(256,4.74),(259.5,4.74),(263,4.74),(270,4.75),(280,4.76),
 (290,4.78),(300,4.88)]


def split(pairs):
    return [p[0] for p in pairs], [p[1] for p in pairs]


W, H = 1232, 984
fig = plt.figure(figsize=(W / 100, H / 100), dpi=100)
left = 74 / W
width = (1206 - 74) / W
rects = [
    [left, 1 - 260 / H, width, (260 - 42) / H],
    [left, 1 - 592 / H, width, (592 - 376) / H],
    [left, 1 - 928 / H, width, (928 - 714) / H],
]

panels = [
    ([split(VX_RAW), split(VX_IMU), split(VX_KF), split(VX_LIB)], (-0.1, 0.3), YTICKS_VX),
    ([split(VY_RAW), split(VY_IMU), split(VY_KF), split(VY_LIB)], (-0.8, 0.0), YTICKS_VY),
    ([split(VZ_RAW), (VZ_IMU_FRAMES, VZ_IMU), split(VZ_KF), split(VZ_LIB)], (0, 6), YTICKS_VZ),
]

axis_gray = "#808080"
for i, (series, ylim, yticks) in enumerate(panels):
    ax = fig.add_axes(rects[i])
    for (xs, ys), name, col in zip(series, SERIES_NAMES, SERIES_COLORS):
        ax.plot(xs, ys, color=col, lw=2.3, label=name)
    ax.set_xlim(0, 300)
    ax.set_ylim(*ylim)
    ax.set_xticks(XTICKS)
    ax.set_yticks(yticks)
    ax.set_yticklabels([("%g" % t).replace("-", "\u2212") for t in yticks])
    for s in ("top", "right"):
        ax.spines[s].set_visible(False)
    for s in ("left", "bottom"):
        ax.spines[s].set_color(axis_gray)
        ax.spines[s].set_linewidth(1.0)
    ax.tick_params(direction="in", length=6, width=1.0, color=axis_gray,
                   labelsize=11, labelcolor="black", pad=5)
    ax.set_title(TITLES[i], fontsize=16, pad=9)
    ax.set_xlabel(XLABEL, fontsize=14, labelpad=8)
    ax.set_ylabel(YLABELS[i], fontsize=14, labelpad=6)
    leg = ax.legend(loc="upper right", fontsize=11, fancybox=False, framealpha=1,
                    edgecolor="#404040", borderaxespad=0.4, handlelength=2.8,
                    labelspacing=0.12, borderpad=0.3, handletextpad=0.3)
    leg.get_frame().set_linewidth(1.0)
    for ln in leg.get_lines():
        ln.set_linewidth(2.0)

fig.savefig("out.png", dpi=100)
